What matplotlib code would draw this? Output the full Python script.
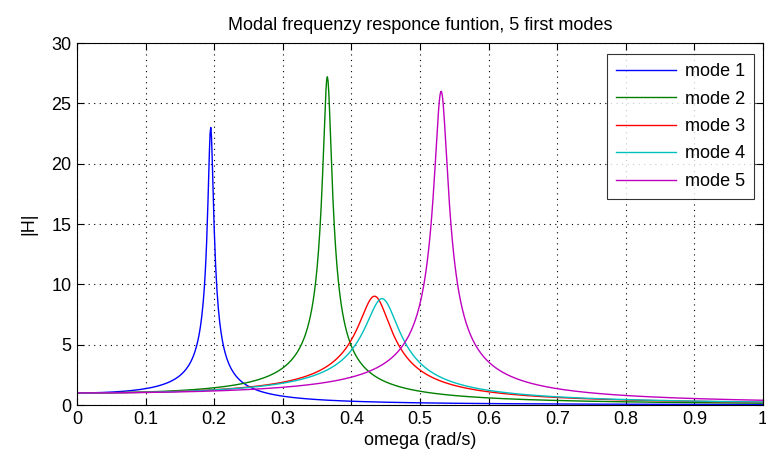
import numpy as np
import matplotlib
matplotlib.use("Agg")
import matplotlib.pyplot as plt

plt.rcParams['font.family'] = ['Liberation Sans Narrow', 'Liberation Sans', 'DejaVu Sans']

# Modal parameters: natural frequency (rad/s) and resonance peak |H|
mode_labels = ["mode 1", "mode 2", "mode 3", "mode 4", "mode 5"]
natural_freq = [0.195, 0.365, 0.435, 0.446, 0.531]
peak_gain = [23.0, 27.2, 9.0, 8.8, 26.0]
colors = ["#0000ff", "#008000", "#ff0000", "#00bfbf", "#bf00bf"]

x_ticks = [0, 0.1, 0.2, 0.3, 0.4, 0.5, 0.6, 0.7, 0.8, 0.9, 1]
x_tick_labels = ["0", "0.1", "0.2", "0.3", "0.4", "0.5", "0.6", "0.7", "0.8", "0.9", "1"]
y_ticks = [0, 5, 10, 15, 20, 25, 30]

omega = np.arange(0, 1.0005, 0.001)

W, H = 766, 463
fig = plt.figure(figsize=(W / 100, H / 100), dpi=100)
fig.patch.set_facecolor("white")
ax = fig.add_axes([77 / W, 1 - 405 / H, (763 - 77) / W, (405 - 43) / H])

for label, wn, pk, c in zip(mode_labels, natural_freq, peak_gain, colors):
    zeta = 1.0 / (2.0 * pk)
    r = omega / wn
    mag = 1.0 / np.sqrt((1 - r ** 2) ** 2 + (2 * zeta * r) ** 2)
    ax.plot(omega, mag, color=c, lw=1.0, label=label)

ax.set_xlim(0, 1)
ax.set_ylim(0, 30)
ax.set_xticks(x_ticks)
ax.set_xticklabels(x_tick_labels)
ax.set_yticks(y_ticks)
ax.grid(True, color="black", linestyle=(0, (1, 4)), linewidth=0.8)
ax.tick_params(direction="in", length=5, width=0.8, top=True, right=True,
               labelsize=13, colors="black", pad=4)
for s in ax.spines.values():
    s.set_linewidth(0.8)
    s.set_color("black")

ax.set_xlabel("omega (rad/s)", fontsize=13, labelpad=3)
ax.set_ylabel("|H|", fontsize=13, labelpad=10)
ax.set_title("Modal frequenzy responce funtion, 5 first modes", fontsize=13, pad=9)

leg = ax.legend(loc="upper right", bbox_to_anchor=(754 / W, 1 - 54 / H),
                bbox_transform=fig.transFigure, fontsize=13, frameon=True,
                fancybox=False, handlelength=3.3, handletextpad=0.5,
                borderpad=0.5, labelspacing=0.58, borderaxespad=0)
leg.get_frame().set_edgecolor("black")
leg.get_frame().set_linewidth(0.8)

fig.savefig("out.png", dpi=100, facecolor="white")
